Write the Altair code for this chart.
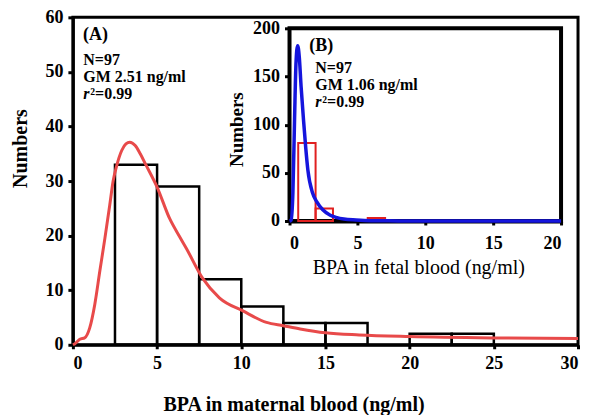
import altair as alt
import pandas as pd

FONT = "Liberation Serif"

# ---------------- data: main histogram (maternal blood) ----------------
main_bin_lo = [2.5, 5.0, 7.5, 10.0, 12.5, 15.0, 20.0, 22.5]
main_bin_hi = [5.0, 7.5, 10.0, 12.5, 15.0, 17.5, 22.5, 25.0]
main_counts = [33, 29, 12, 7, 4, 4, 2, 2]

main_fit_x = [0, 0.12, 0.41, 0.71, 1.0, 1.3, 1.6, 1.9, 2.19, 2.39, 2.6, 2.9, 3.15, 3.38,
              3.7, 4.0, 4.33, 5.0, 5.75, 6.34, 6.75, 7.7, 8.7, 10.1, 11.5, 12.5, 13.5,
              15.0, 17.0, 20.0, 25.0, 30.0]
main_fit_y = [0, 0.2, 1.0, 1.3, 3.1, 7.4, 13.5, 19.5, 25.6, 30.0, 32.8, 35.6, 36.8, 37.1,
              36.5, 35.0, 33.0, 28.9, 23.1, 19.8, 17.6, 12.2, 8.6, 6.2, 4.1, 3.5, 2.9,
              2.2, 1.8, 1.5, 1.25, 1.15]

main_x_domain = [0, 30]
main_y_domain = [0, 60]
main_x_ticks = [0, 5, 10, 15, 20, 25, 30]
main_y_ticks = [0, 10, 20, 30, 40, 50, 60]

# ---------------- data: inset histogram (fetal blood) ----------------
inset_bin_lo = [0.64, 1.92, 5.76]
inset_bin_hi = [1.92, 3.20, 7.04]
inset_counts = [81, 13, 3]

inset_fit_x = [0, 0.12, 0.25, 0.37, 0.48, 0.6, 0.72, 0.85, 1.03, 1.2, 1.35, 1.7, 2.0,
               2.45, 3.0, 3.43, 4.0, 4.9, 6.0, 8.0, 20.0]
inset_fit_y = [0, 1, 30, 105, 165, 182, 170, 140, 105, 75, 53, 29, 20,
               11.6, 6, 3.8, 2, 1, 0.3, 0.1, 0]

inset_x_domain = [0, 20]
inset_y_domain = [0, 200]
inset_x_ticks = [0, 5, 10, 15, 20]
inset_y_ticks = [0, 50, 100, 150, 200]

# annotation texts
main_notes = ["(A)", "N=97", "GM 2.51 ng/ml"]
inset_notes = ["(B)", "N=97", "GM 1.06 ng/ml"]
r2_text = "\u00b2=0.99"

# ---------------- layout (pixels) ----------------
W, H = 506, 328
inset_xr = [217, 489]
inset_yr = [204, 11]

main_hist = pd.DataFrame({"lo": main_bin_lo, "hi": main_bin_hi, "n": main_counts})
main_fit = pd.DataFrame({"x": main_fit_x, "y": main_fit_y})
inset_hist = pd.DataFrame({"lo": inset_bin_lo, "hi": inset_bin_hi, "n": inset_counts})
inset_fit = pd.DataFrame({"x": inset_fit_x, "y": inset_fit_y})
inset_box = pd.DataFrame({"x0": [inset_x_domain[0]], "x1": [inset_x_domain[1]],
                          "y0": [inset_y_domain[0]], "y1": [inset_y_domain[1]]})

mx_scale = alt.Scale(domain=main_x_domain, nice=False, zero=False)
my_scale = alt.Scale(domain=main_y_domain, nice=False)
ix_scale = alt.Scale(domain=inset_x_domain, nice=False, range=inset_xr)
iy_scale = alt.Scale(domain=inset_y_domain, nice=False, range=inset_yr)

mx_axis = alt.Axis(values=main_x_ticks, labelFontSize=18, labelFontWeight="bold",
                   tickSize=4, tickWidth=3, domainWidth=3, labelPadding=6,
                   title="BPA in maternal blood (ng/ml)", titleFontSize=20,
                   titleFontWeight="bold", titleX=221, titleY=60,
                   titleAlign="center", titleBaseline="middle")
my_axis = alt.Axis(values=main_y_ticks, labelFontSize=18, labelFontWeight="bold",
                   tickSize=5, tickWidth=3, domainWidth=3, labelPadding=5,
                   title="Numbers", titleFontSize=20, titleFontWeight="bold",
                   titleX=-52, titleY=131, titleAngle=-90,
                   titleAlign="center", titleBaseline="middle")
ix_axis = alt.Axis(values=inset_x_ticks, orient="bottom", offset=-(H - inset_yr[0]),
                   labelFontSize=18, labelFontWeight="bold",
                   tickSize=4, tickWidth=3, domainWidth=4, labelPadding=10,
                   title="BPA in fetal blood (ng/ml)", titleFontSize=20,
                   titleFontWeight="normal", titleX=346, titleY=47,
                   titleAlign="center", titleBaseline="middle")
iy_axis = alt.Axis(values=inset_y_ticks, orient="left", offset=-inset_xr[0],
                   labelFontSize=18, labelFontWeight="bold",
                   tickSize=5, tickWidth=3, domainWidth=4, labelPadding=5,
                   title="Numbers", titleFontSize=19, titleFontWeight="bold",
                   titleX=-53, titleY=112, titleAngle=-90,
                   titleAlign="center", titleBaseline="middle")


def MX(f):
    return alt.X(f, type="quantitative", scale=mx_scale, axis=mx_axis)


def MY(f):
    return alt.Y(f, type="quantitative", scale=my_scale, axis=my_axis)


def IX(f):
    return alt.X(f, type="quantitative", scale=ix_scale, axis=ix_axis)


def IY(f):
    return alt.Y(f, type="quantitative", scale=iy_scale, axis=iy_axis)


# ---------------- main layer ----------------
m_bars = alt.Chart(main_hist).mark_rect(
    fillOpacity=0, stroke="black", strokeWidth=2.5
).encode(x=MX("lo"), x2="hi", y=MY("n"), y2=alt.datum(0))

m_fit = alt.Chart(main_fit).mark_line(
    color="#E84A4A", strokeWidth=3, interpolate="monotone"
).encode(x=MX("x"), y=MY("y"))

m_note_pos = pd.DataFrame({"t": main_notes, "x": [0.6, 0.62, 0.62], "y": [56.8, 52.2, 49.1],
                           "s": [18, 16, 16]})
m_notes = alt.Chart(m_note_pos).mark_text(
    font=FONT, fontWeight="bold", align="left", baseline="middle", color="black"
).encode(x=MX("x"), y=MY("y"), text="t:N",
         size=alt.Size("s:Q", scale=None, legend=None))
m_r_pos = pd.DataFrame({"x": [0.62], "y": [46.0]})
m_r = alt.Chart(m_r_pos).mark_text(
    font=FONT, fontWeight="bold", fontStyle="italic", fontSize=16, align="left",
    baseline="middle", text="r"
).encode(x=MX("x"), y=MY("y"))
m_r2 = alt.Chart(m_r_pos).mark_text(
    font=FONT, fontWeight="bold", fontSize=16, align="left", baseline="middle",
    text=r2_text, dx=7
).encode(x=MX("x"), y=MY("y"))

main_layer = alt.layer(m_bars, m_fit, m_notes, m_r, m_r2)

# ---------------- inset layer ----------------
i_box = alt.Chart(inset_box).mark_rect(
    fill="white", stroke="black", strokeWidth=4
).encode(x=IX("x0"), x2="x1", y=IY("y0"), y2="y1")

i_bars = alt.Chart(inset_hist).mark_rect(
    fillOpacity=0, stroke="#E02020", strokeWidth=2
).encode(x=IX("lo"), x2="hi", y=IY("n"), y2=alt.datum(0))

i_fit = alt.Chart(inset_fit).mark_line(
    color="#1515DD", strokeWidth=3.5, interpolate="monotone"
).encode(x=IX("x"), y=IY("y"))

i_note_pos = pd.DataFrame({"t": inset_notes, "x": [1.45, 1.9, 1.9], "y": [182, 158.5, 141],
                           "s": [18, 16, 16]})
i_notes = alt.Chart(i_note_pos).mark_text(
    font=FONT, fontWeight="bold", align="left", baseline="middle", color="black"
).encode(x=IX("x"), y=IY("y"), text="t:N",
         size=alt.Size("s:Q", scale=None, legend=None))
i_r_pos = pd.DataFrame({"x": [1.9], "y": [123.5]})
i_r = alt.Chart(i_r_pos).mark_text(
    font=FONT, fontWeight="bold", fontStyle="italic", fontSize=16, align="left",
    baseline="middle", text="r"
).encode(x=IX("x"), y=IY("y"))
i_r2 = alt.Chart(i_r_pos).mark_text(
    font=FONT, fontWeight="bold", fontSize=16, align="left", baseline="middle",
    text=r2_text, dx=7
).encode(x=IX("x"), y=IY("y"))

inset_layer = alt.layer(i_box, i_bars, i_fit, i_notes, i_r, i_r2)

chart = alt.layer(main_layer, inset_layer).resolve_scale(
    x="independent", y="independent", size="independent"
).properties(
    width=W, height=H,
    autosize=alt.AutoSizeParams(type="none"),
    padding={"left": 65, "top": 9, "right": 14, "bottom": 70},
    background="white",
).configure_axis(
    labelFont=FONT, titleFont=FONT, grid=False,
    domainColor="black", tickColor="black", labelColor="black", titleColor="black",
).configure_view(
    stroke="black", strokeWidth=3
)

chart.save("out.html", embed_options={"renderer": "svg", "actions": False})
